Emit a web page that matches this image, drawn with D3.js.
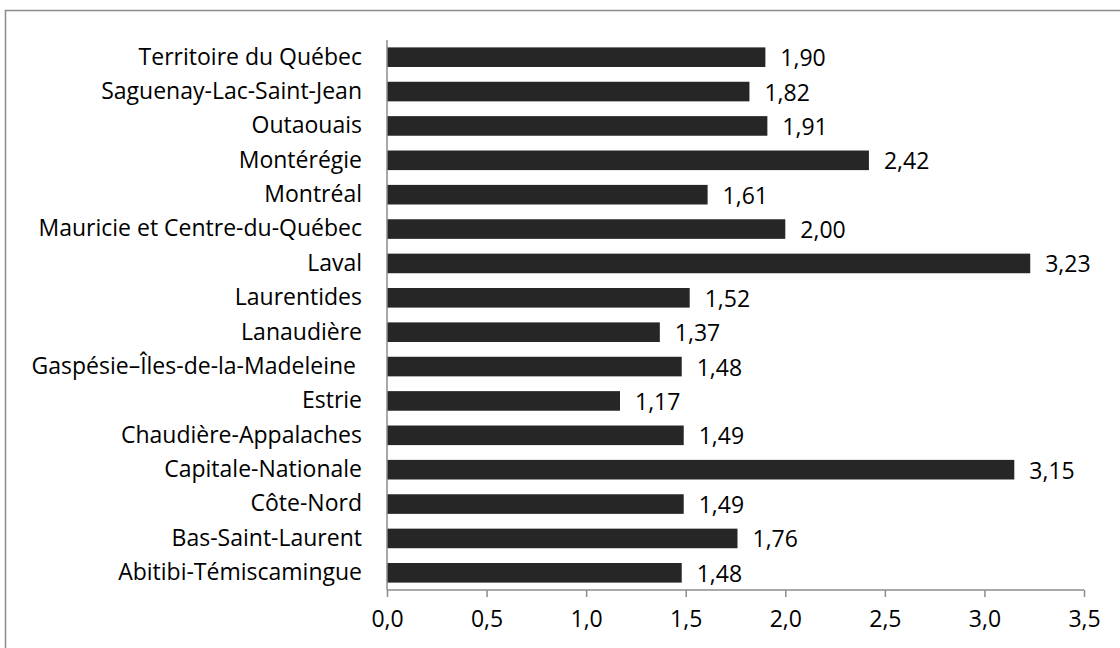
<!DOCTYPE html>
<html>
<head>
<meta charset="utf-8">
<script src="https://cdn.jsdelivr.net/npm/d3@7"></script>
<style>
  body { margin: 0; background: #fff; }
  text { font-family: "Open Sans", sans-serif; fill: #000; }
</style>
</head>
<body>
<svg id="chart" width="1120" height="648"></svg>
<script>
// regions, top to bottom as shown
var regions = [
    "Territoire du Québec",
    "Saguenay-Lac-Saint-Jean",
    "Outaouais",
    "Montérégie",
    "Montréal",
    "Mauricie et Centre-du-Québec",
    "Laval",
    "Laurentides",
    "Lanaudière",
    "Gaspésie–Îles-de-la-Madeleine ",
    "Estrie",
    "Chaudière-Appalaches",
    "Capitale-Nationale",
    "Côte-Nord",
    "Bas-Saint-Laurent",
    "Abitibi-Témiscamingue"
];
var values = [1.90, 1.82, 1.91, 2.42, 1.61, 2.00, 3.23, 1.52, 1.37, 1.48, 1.17, 1.49, 3.15, 1.49, 1.76, 1.48];
var xTicks = [0, 0.5, 1, 1.5, 2, 2.5, 3, 3.5];

var svg = d3.select("#chart");
var margin = {top: 40, left: 387, right: 36, bottom: 58};
var width = 1120 - margin.left - margin.right,
    height = 648 - margin.top - margin.bottom;
var fontSize = "23px";

var fmt = function(v, d) { return v.toFixed(d).replace(".", ","); };

// outer border (goes past the picture edge on right/bottom)
svg.append("rect")
    .attr("x", 5.5).attr("y", 10.5)
    .attr("width", 1200).attr("height", 700)
    .attr("fill", "none")
    .attr("stroke", "#8c8c8c")
    .attr("stroke-width", 1.5);

var g = svg.append("g")
    .attr("transform", "translate(" + margin.left + "," + margin.top + ")");

var xScale = d3.scaleLinear().domain([0, 3.5]).range([0, 697]);
var yScale = d3.scaleBand().domain(regions).range([0, height]).paddingInner(0.43).paddingOuter(0.215);

// bars
g.selectAll(".bar")
    .data(values)
    .enter().append("rect")
    .attr("class", "bar")
    .attr("x", 0)
    .attr("y", function(d, i) { return yScale(regions[i]); })
    .attr("width", function(d) { return xScale(d); })
    .attr("height", yScale.bandwidth())
    .attr("fill", "#262626");

// value labels
g.selectAll(".val")
    .data(values)
    .enter().append("text")
    .attr("class", "val")
    .attr("x", function(d) { return xScale(d) + 15; })
    .attr("y", function(d, i) { return yScale(regions[i]) + yScale.bandwidth() / 2 + 1; })
    .attr("dy", "0.35em")
    .style("font-size", fontSize)
    .text(function(d) { return fmt(d, 2); });

// x axis
var xAxis = g.append("g")
    .attr("transform", "translate(0," + height + ")")
    .call(d3.axisBottom(xScale).tickValues(xTicks).tickSize(7).tickPadding(14).tickFormat(function(d) { return fmt(d, 1); }));
xAxis.select(".domain").attr("stroke", "#8c8c8c").attr("stroke-width", 1.5).attr("d", "M0,0H697");
xAxis.selectAll(".tick line").attr("stroke", "#8c8c8c").attr("stroke-width", 1.5);
xAxis.selectAll(".tick text").style("font-size", fontSize).style("font-family", "'Open Sans', sans-serif").attr("fill", "#000");

// y axis
var yAxis = g.append("g")
    .call(d3.axisLeft(yScale).tickSize(0).tickPadding(25));
yAxis.select(".domain").attr("stroke", "#8c8c8c").attr("stroke-width", 1.5).attr("d", "M0,0V" + height);
yAxis.selectAll(".tick text").style("font-size", fontSize).style("font-family", "'Open Sans', sans-serif").attr("fill", "#000").style("white-space", "pre");
</script>
</body>
</html>
